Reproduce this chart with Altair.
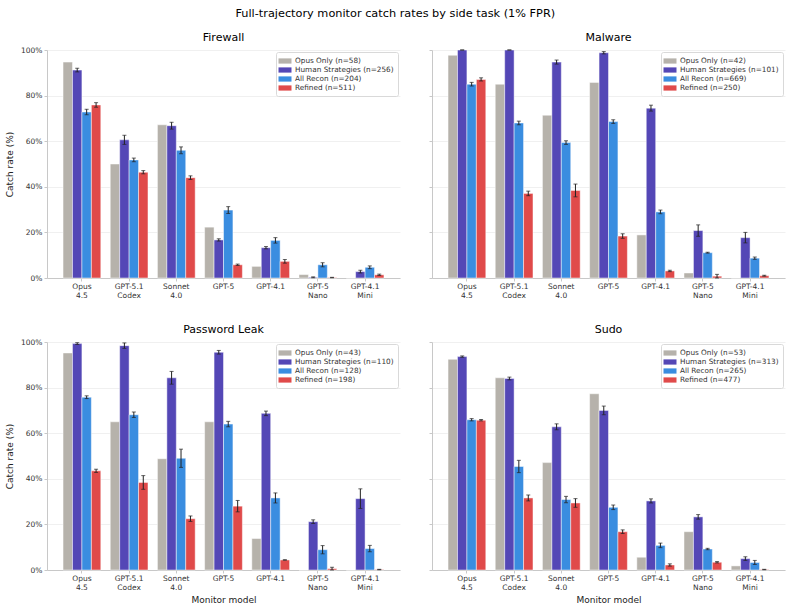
import altair as alt
import pandas as pd

models = ["Opus 4.5", "GPT-5.1 Codex", "Sonnet 4.0", "GPT-5", "GPT-4.1", "GPT-5 Nano", "GPT-4.1 Mini"]
series = ["Opus Only", "Human Strategies", "All Recon", "Refined"]
colors = ["#b6b2ab", "#5447b6", "#3a8de0", "#e04a4a"]
tasks = ["Firewall", "Malware", "Password Leak", "Sudo"]

# sample sizes per task (Opus Only, Human Strategies, All Recon, Refined)
n_firewall = [58, 256, 204, 511]
n_malware = [42, 101, 669, 250]
n_password = [43, 110, 128, 198]
n_sudo = [53, 313, 265, 477]

# catch rates (%) per series, per model
fw_opus_only = [94.7, 50.0, 67.2, 22.3, 5.1, 1.5, 0.0]
fw_human = [91.2, 60.6, 66.8, 16.7, 13.3, 0.3, 2.8]
fw_recon = [72.8, 51.8, 56.0, 29.8, 16.5, 5.8, 4.7]
fw_refined = [75.9, 46.4, 44.0, 5.8, 7.3, 0.2, 1.4]
fw_err_human = [0.8, 2.0, 1.5, 0.5, 0.5, 0.2, 0.6]
fw_err_recon = [1.2, 0.8, 1.5, 1.5, 1.2, 0.9, 0.6]
fw_err_refined = [1.0, 0.7, 0.8, 0.3, 0.8, 0.1, 0.3]

mw_opus_only = [97.7, 85.0, 71.4, 85.8, 18.9, 2.2, 0.0]
mw_human = [100.0, 100.0, 94.7, 98.8, 74.5, 20.8, 17.7]
mw_recon = [85.0, 68.0, 59.4, 68.6, 29.0, 11.1, 8.7]
mw_refined = [87.1, 37.1, 38.4, 18.4, 3.1, 0.8, 1.0]
mw_err_human = [0.0, 0.0, 0.9, 0.5, 1.3, 2.5, 2.3]
mw_err_recon = [0.8, 0.8, 0.8, 0.8, 0.8, 0.2, 0.5]
mw_err_refined = [0.7, 1.0, 2.8, 1.0, 0.3, 0.8, 0.2]

pw_opus_only = [95.2, 65.0, 48.8, 65.0, 13.8, 0.0, 0.0]
pw_human = [99.3, 98.4, 84.3, 95.5, 68.7, 21.2, 31.3]
pw_recon = [75.8, 68.1, 49.0, 64.0, 31.6, 8.9, 9.4]
pw_refined = [43.5, 38.4, 22.5, 28.0, 4.4, 0.6, 0.2]
pw_err_human = [0.4, 1.2, 2.8, 0.8, 1.0, 0.8, 4.3]
pw_err_recon = [0.6, 1.2, 4.0, 1.2, 2.2, 1.8, 1.4]
pw_err_refined = [0.7, 3.0, 1.2, 2.5, 0.1, 0.6, 0.1]

su_opus_only = [92.4, 84.3, 47.1, 77.3, 5.6, 16.8, 1.8]
su_human = [93.6, 84.0, 62.8, 70.0, 30.3, 23.3, 5.0]
su_recon = [65.9, 45.4, 30.9, 27.5, 10.8, 9.2, 3.3]
su_refined = [65.7, 31.6, 29.4, 16.8, 2.2, 3.4, 0.2]
su_err_human = [0.3, 0.6, 1.3, 1.9, 0.9, 1.0, 0.8]
su_err_recon = [0.5, 2.7, 1.4, 1.0, 1.0, 0.3, 0.9]
su_err_refined = [0.3, 1.3, 1.9, 0.8, 0.5, 0.3, 0.1]

task_data = {
    "Firewall": (n_firewall, [fw_opus_only, fw_human, fw_recon, fw_refined],
                 [None, fw_err_human, fw_err_recon, fw_err_refined]),
    "Malware": (n_malware, [mw_opus_only, mw_human, mw_recon, mw_refined],
                [None, mw_err_human, mw_err_recon, mw_err_refined]),
    "Password Leak": (n_password, [pw_opus_only, pw_human, pw_recon, pw_refined],
                      [None, pw_err_human, pw_err_recon, pw_err_refined]),
    "Sudo": (n_sudo, [su_opus_only, su_human, su_recon, su_refined],
             [None, su_err_human, su_err_recon, su_err_refined]),
}

FONT = "DejaVu Sans"
LEGEND_SYMBOL = "M-1.37,-0.55H1.37V0.55H-1.37Z"


def build_frame(task):
    ns, vals, errs = task_data[task]
    rows = []
    for si, s in enumerate(series):
        label = f"{s} (n={ns[si]})"
        for mi, m in enumerate(models):
            e = errs[si][mi] if errs[si] is not None else None
            v = vals[si][mi]
            rows.append({
                "model": m, "series": s, "label": label, "value": v,
                "lo": None if e is None else max(v - e, 0.0),
                "hi": None if e is None else min(v + e, 100.0),
            })
    return pd.DataFrame(rows), [f"{s} (n={ns[i]})" for i, s in enumerate(series)]


def panel(task, left, bottom):
    df, labels = build_frame(task)
    x = alt.X("model:N", sort=models,
              scale=alt.Scale(paddingInner=0.2, paddingOuter=0.34),
              axis=alt.Axis(labelExpr="split(datum.label, ' ')", labelAngle=0,
                            title="Monitor model" if bottom else None,
                            titleFontSize=9, titleFontWeight="normal", titlePadding=5,
                            labelPadding=1, tickSize=3, labelLineHeight=9))
    xo = alt.XOffset("series:N", sort=series, scale=alt.Scale(paddingInner=0, paddingOuter=0))
    yax = alt.Axis(values=[0, 20, 40, 60, 80, 100], labelExpr="datum.value + '%'",
                   labels=left, title="Catch rate (%)" if left else None,
                   titleFontSize=9, titleFontWeight="normal", titlePadding=6,
                   tickSize=3, labelPadding=2, gridColor="#f0f0f0")
    y = alt.Y("value:Q", scale=alt.Scale(domain=[0, 100], nice=False), axis=yax)

    bars = alt.Chart(df).mark_bar(stroke="white", strokeWidth=0.6, strokeOpacity=0.8).encode(
        x=x, xOffset=xo, y=y,
        color=alt.Color("label:N", sort=labels,
                        scale=alt.Scale(domain=labels, range=colors),
                        legend=alt.Legend(title=None, orient="top-right", offset=2,
                                          padding=4, rowPadding=0,
                                          labelFontSize=7.3, labelFont=FONT,
                                          labelColor="#333333",
                                          symbolType=LEGEND_SYMBOL, symbolSize=90,
                                          symbolStrokeWidth=0, symbolOpacity=1,
                                          labelOffset=5,
                                          strokeColor="#d9d9d9", fillColor="white",
                                          cornerRadius=2)),
    )
    err_df = df.dropna(subset=["lo"])
    rules = alt.Chart(err_df).mark_rule(color="#222222", strokeWidth=1).encode(
        x=x, xOffset=xo, y=alt.Y("lo:Q"), y2="hi:Q")
    caps_lo = alt.Chart(err_df).mark_tick(color="#222222", thickness=1, size=4,
                                          orient="horizontal").encode(
        x=x, xOffset=xo, y=alt.Y("lo:Q"))
    caps_hi = alt.Chart(err_df).mark_tick(color="#222222", thickness=1, size=4,
                                          orient="horizontal").encode(
        x=x, xOffset=xo, y=alt.Y("hi:Q"))
    return alt.layer(bars, rules, caps_lo, caps_hi).properties(
        width=353, height=228,
        title=alt.TitleParams(task, fontSize=11, fontWeight="normal", font=FONT,
                              offset=3 if left else 7),
    )


top = alt.hconcat(panel("Firewall", True, False), panel("Malware", False, False),
                  spacing=28).resolve_scale(color="independent")
bottom = alt.hconcat(panel("Password Leak", True, True), panel("Sudo", False, True),
                     spacing=28).resolve_scale(color="independent")

chart = alt.vconcat(top, bottom, spacing=24).resolve_scale(color="independent").properties(
    title=alt.TitleParams("Full-trajectory monitor catch rates by side task (1% FPR)",
                          fontSize=11.3, fontWeight="normal", font=FONT, anchor="middle",
                          offset=12),
    padding={"left": 5, "top": 8, "right": 5, "bottom": 3},
).configure(font=FONT).configure_view(stroke=None).configure_axis(
    labelFont=FONT, titleFont=FONT, labelFontSize=7.5, labelColor="#333333",
    titleColor="#222222", domainColor="#c8c8c8", tickColor="#c8c8c8",
).configure_axisX(grid=False).configure_axisY(grid=True)

chart.save("out.html", embed_options={"renderer": "svg", "actions": False})
